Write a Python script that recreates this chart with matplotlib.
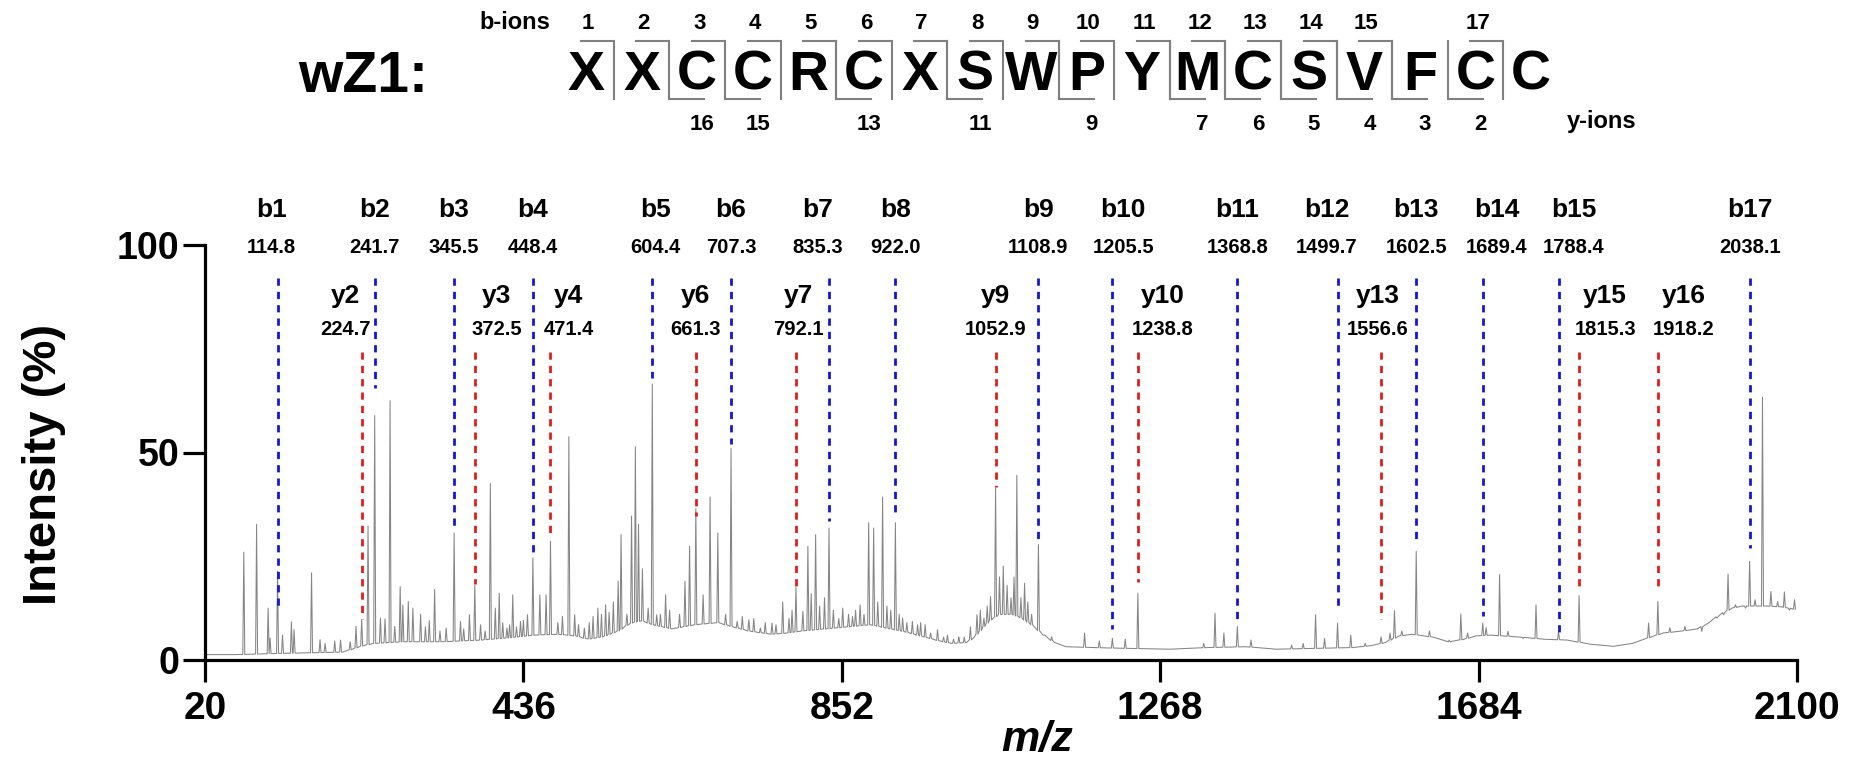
import numpy as np
import matplotlib
matplotlib.use("Agg")
import matplotlib.pyplot as plt
from matplotlib import font_manager

# ---------------------------------------------------------------- data
# MS/MS spectrum of peptide wZ1: peak apexes (m/z, relative intensity %)
peak_mz = [
    70.7, 87.4, 102.5, 105.0, 114.8, 121.3, 132.9, 136.4, 159.2, 170.3, 176.9,
    189.5, 197.1, 209.7, 217.3, 224.7, 233.0, 241.7, 249.2, 255.2, 261.8, 267.9,
    275.0, 278.5, 285.6, 291.6, 301.7, 308.0, 313.0, 320.0, 327.0, 335.1, 345.5,
    353.8, 358.0, 365.5, 372.5, 380.0, 386.0,
    392.8, 399.3, 404.4, 409.0, 414.5, 418.0, 422.1, 427.0, 432.2, 436.0, 441.3,
    448.4, 457.5, 465.6, 471.4, 481.0, 487.0,
    495.4, 503.0, 508.0, 515.6, 522.0, 527.0, 533.3, 538.0, 543.4, 548.0, 553.5,
    559.8, 563.6, 571.2, 577.3, 582.3,
    586.4, 591.5, 599.0, 604.4, 610.2, 615.0, 621.8, 627.0, 634.4, 640.0, 647.1,
    653.1, 661.3, 670.8, 679.9, 690.0, 700.2, 707.3, 715.3, 722.0, 730.5, 737.0,
    745.6, 752.0, 760.8, 766.0,
    774.8, 783.0, 787.0, 792.1, 801.1, 807.7, 812.0, 817.8, 823.0, 829.4, 835.3,
    841.0, 848.0, 853.2, 860.8, 866.0, 870.0, 875.9, 881.0, 887.1, 893.6, 899.0,
    905.3, 911.0, 916.0, 922.0, 927.0, 931.5, 937.0, 944.2, 951.0, 955.0, 960.9,
    968.0, 977.1, 985.0, 990.0, 998.0, 1004.9, 1012.0, 1020.0, 1028.6, 1033.0,
    1037.7, 1042.0, 1046.3, 1052.9, 1058.0, 1063.0, 1068.0, 1073.1, 1077.0,
    1080.7, 1086.0, 1090.8, 1095.0, 1100.0, 1108.9, 1116.0, 1126.2, 1169.2,
    1188.4, 1205.5, 1222.3, 1238.8, 1324.9, 1339.6, 1351.2, 1368.8, 1386.6,
    1439.7, 1454.8, 1471.0, 1482.7, 1499.7, 1517.0, 1535.8,
    1556.6, 1568.3, 1574.1, 1583.7, 1602.5, 1619.8, 1645.4, 1660.8, 1669.6,
    1689.4, 1693.8, 1711.4, 1722.4, 1742.3, 1759.0, 1788.4, 1815.3, 1906.1,
    1918.2, 1933.8, 1953.6, 1975.6, 1995.4, 2004.2, 2009.9, 2019.6, 2032.8,
    2038.1, 2045.2, 2054.9, 2065.9, 2074.7, 2083.5, 2090.1, 2096.7,
]
peak_int = [
    26.0, 32.7, 12.5, 5.3, 21.4, 6.0, 9.2, 7.3, 21.0, 4.9, 4.0,
    4.6, 4.8, 4.4, 8.1, 9.7, 32.3, 58.9, 10.1, 9.9, 62.5, 8.1,
    17.7, 13.3, 14.1, 12.5, 11.0, 8.0, 9.5, 17.0, 7.0, 7.7, 30.6,
    9.3, 7.5, 10.9, 18.0, 8.5, 7.0,
    42.5, 12.5, 16.1, 9.0, 7.7, 8.5, 15.7, 8.0, 9.3, 9.5, 10.9,
    24.6, 15.7, 15.7, 28.6, 9.0, 10.5,
    53.8, 10.9, 8.5, 7.7, 9.0, 10.5, 12.5, 11.0, 13.3, 11.5, 14.0,
    19.0, 30.2, 11.0, 34.7, 51.4,
    32.7, 22.0, 12.5, 66.5, 10.9, 11.0, 15.7, 12.0, 7.7, 11.0, 19.0,
    27.4, 36.5, 15.7, 39.3, 30.6, 11.0, 51.0, 9.3, 10.5, 9.7, 10.0,
    7.7, 9.0, 8.9, 8.5,
    14.0, 10.0, 12.0, 17.5, 11.7, 27.4, 16.0, 30.2, 13.0, 15.0, 31.8,
    12.0, 10.0, 12.5, 11.0, 10.5, 12.0, 13.3, 11.0, 33.1, 31.8, 14.0,
    39.3, 13.0, 12.0, 33.1, 11.0, 10.1, 9.0, 9.3, 8.5, 9.0, 8.5,
    6.5, 7.3, 5.5, 6.0, 5.0, 5.6, 5.5, 8.0, 10.9, 12.0,
    10.1, 13.0, 15.3, 41.5, 20.0, 22.6, 18.0, 15.0, 20.0,
    44.5, 15.0, 18.5, 14.0, 11.0, 27.8, 6.0, 5.6, 6.5,
    4.6, 5.2, 5.0, 16.1, 4.0, 11.3, 6.5, 8.1, 4.8,
    3.6, 4.0, 10.9, 5.2, 8.9, 6.0, 4.0,
    5.6, 6.5, 11.9, 7.0, 26.2, 7.0, 4.8, 11.1, 6.5,
    8.9, 7.8, 20.6, 6.9, 5.2, 13.3, 6.9, 15.5, 8.9,
    14.1, 7.8, 8.1, 6.9, 10.1, 10.9, 20.7, 13.3, 12.5,
    23.8, 14.5, 63.3, 16.5, 14.1, 16.4, 12.0, 14.5,
]

# chemical-noise floor under the peaks (m/z, %)
base_mz = [
    20, 60, 120, 200, 212, 225, 240, 280, 330, 380, 420, 450, 480, 505, 520,
    540, 560, 575, 590, 605, 630, 660, 690, 710, 730, 760,
    780, 800, 830, 860, 890, 915, 935, 955, 975, 995, 1015, 1025, 1035, 1045,
    1058, 1075, 1088, 1100, 1116, 1130, 1145, 1200, 1280, 1330, 1380, 1420,
    1470, 1520, 1545, 1562, 1580, 1597, 1625, 1645, 1665, 1680, 1700, 1740,
    1770, 1800, 1830, 1860, 1885, 1903, 1925, 1950, 1970, 1985, 2000, 2015,
    2028, 2050, 2062, 2080, 2098,
]
base_int = [
    1.3, 1.3, 1.6, 1.9, 2.6, 3.4, 4.0, 4.4, 4.4, 4.8, 5.4, 6.0, 6.2, 5.8, 5.0,
    5.6, 7.0, 8.8, 9.5, 8.5, 7.5, 8.5, 9.0, 8.0, 7.0, 6.2,
    6.5, 7.0, 7.5, 8.0, 8.5, 7.5, 6.8, 5.8, 4.8, 4.0, 4.2, 5.5, 7.5, 9.5,
    11.0, 11.0, 10.0, 8.5, 6.0, 4.2, 3.2, 2.9, 2.6, 3.0, 3.2, 2.6,
    2.8, 3.0, 3.5, 4.2, 5.8, 6.2, 5.5, 4.4, 5.0, 5.8, 6.0, 5.5,
    5.0, 4.8, 3.8, 3.3, 4.0, 5.2, 6.5, 7.0, 7.5, 9.0, 11.0, 12.5,
    13.0, 13.0, 13.0, 12.8, 12.2,
]

# assigned fragment ions
b_names = ["b1", "b2", "b3", "b4", "b5", "b6", "b7", "b8", "b9", "b10",
           "b11", "b12", "b13", "b14", "b15", "b17"]
b_mz = [114.8, 241.7, 345.5, 448.4, 604.4, 707.3, 835.3, 922.0, 1108.9,
        1205.5, 1368.8, 1499.7, 1602.5, 1689.4, 1788.4, 2038.1]
b_end = [13.1, 65.6, 32.3, 25.4, 68.0, 52.0, 33.5, 34.7, 29.0, 7.5, 9.9,
         11.7, 29.0, 10.5, 6.0, 27.0]

y_names = ["y2", "y3", "y4", "y6", "y7", "y9", "y10", "y13", "y15", "y16"]
y_mz = [224.7, 372.5, 471.4, 661.3, 792.1, 1052.9, 1238.8, 1556.6, 1815.3,
        1918.2]
y_end = [9.9, 18.4, 29.7, 34.8, 17.6, 41.7, 18.8, 9.9, 16.5, 16.7]

# peptide sequence with observed cleavages
peptide_name = "wZ1:"
sequence = ["X", "X", "C", "C", "R", "C", "X", "S", "W", "P", "Y", "M",
            "C", "S", "V", "F", "C", "C"]
seq_b_ions = [1, 2, 3, 4, 5, 6, 7, 8, 9, 10, 11, 12, 13, 14, 15, 17]
seq_y_ions = [16, 15, 13, 11, 9, 7, 6, 5, 4, 3, 2]

x_ticks = [20, 436, 852, 1268, 1684, 2100]
y_ticks = [0, 50, 100]

# ---------------------------------------------------------------- style
W, H, DPI = 1854, 763, 100
names = {f.name for f in font_manager.fontManager.ttflist}
main_font = "Liberation Sans" if "Liberation Sans" in names else "DejaVu Sans"
seq_font = "Liberation Sans Narrow" if "Liberation Sans Narrow" in names else main_font

plt.rcParams["font.family"] = [main_font, "DejaVu Sans"]
plt.rcParams["font.weight"] = "bold"
plt.rcParams["axes.labelweight"] = "bold"

BLUE = "#1414e6"
RED = "#e51c1c"
GREY = "#808080"

fig = plt.figure(figsize=(W / DPI, H / DPI), dpi=DPI)

# main spectrum axes (pixel box: x 205..1797, y 245..660)
ax = fig.add_axes([205 / W, (H - 660) / H, (1797 - 205) / W, (660 - 245) / H])
ax.set_xlim(20, 2100)
ax.set_ylim(0, 100)

# profile trace: each peak is a narrow spike standing on the noise floor
pk_mz = np.asarray(peak_mz)
pk_int = np.asarray(peak_int)
bs_mz = np.asarray(base_mz, dtype=float)
bs_int = np.asarray(base_int, dtype=float)
half = 1.3
keep = np.array([np.min(np.abs(pk_mz - m)) > 2 * half for m in bs_mz])
floor = np.interp(pk_mz, bs_mz, bs_int)
xs = np.concatenate([bs_mz[keep], pk_mz - half, pk_mz, pk_mz + half])
ys = np.concatenate([bs_int[keep], floor, pk_int, floor])
order = np.argsort(xs, kind="stable")
ax.plot(xs[order], ys[order], color="#858585", lw=0.75, zorder=2)

# fragment markers
dash = dict(lw=2.0, dashes=(2.6, 2.2), zorder=3, clip_on=False)
B_TOP, Y_TOP = 92.0, 74.3
for m, e in zip(b_mz, b_end):
    ax.plot([m, m], [B_TOP, e], color=BLUE, **dash)
for m, e in zip(y_mz, y_end):
    ax.plot([m, m], [Y_TOP, e], color=RED, **dash)

# label offsets (pixels) to keep neighbouring labels apart
b_dx = [-6, 0, 0, 0, 3, 0, -11, 0, 0, 11, 0, -11, 0, 14, 15, 0]
y_dx = [-16, 22, 18, 0, 2, 0, 25, -3, 26, 26]
px2pt = 72 / DPI
for name, m, dx in zip(b_names, b_mz, b_dx):
    ax.annotate(name, (m, 106.7), xytext=(dx * px2pt, 0),
                textcoords="offset points", ha="center", va="baseline",
                fontsize=19, annotation_clip=False)
    ax.annotate(f"{m:.1f}", (m, 98.15), xytext=(dx * px2pt, 0),
                textcoords="offset points", ha="center", va="baseline",
                fontsize=14.5, annotation_clip=False)
for name, m, dx in zip(y_names, y_mz, y_dx):
    ax.annotate(name, (m, 86.0), xytext=(dx * px2pt, 0),
                textcoords="offset points", ha="center", va="baseline",
                fontsize=19, annotation_clip=False)
    ax.annotate(f"{m:.1f}", (m, 78.3), xytext=(dx * px2pt, 0),
                textcoords="offset points", ha="center", va="baseline",
                fontsize=14.5, annotation_clip=False)

# axes cosmetics
for side in ("top", "right"):
    ax.spines[side].set_visible(False)
for side in ("left", "bottom"):
    ax.spines[side].set_linewidth(2.3)
ax.set_xticks(x_ticks)
ax.set_yticks(y_ticks)
ax.tick_params(axis="both", direction="out", length=16, width=2.3)
ax.tick_params(axis="x", labelsize=28, pad=6)
ax.tick_params(axis="y", labelsize=27, pad=2.5)
ax.set_ylabel("Intensity (%)", fontsize=34, va="center")
ax.yaxis.set_label_coords((44 - 205) / (1797 - 205), (660 - 464) / (660 - 245))
ax.set_xlabel("m/z", fontsize=31, style="italic", va="baseline")
ax.xaxis.set_label_coords((1037 - 205) / (1797 - 205), (660 - 751) / (660 - 245))

# ---------------------------------------------------------------- sequence header
hdr = fig.add_axes([0, 0, 1, 1], zorder=5)
hdr.set_xlim(0, W)
hdr.set_ylim(H, 0)
hdr.axis("off")

x0, step = 586.0, 55.6
top_y, bot_y = 40.7, 99.3
res_x = [x0 + step * i for i in range(len(sequence))]


def cut_x(k):
    # cleavage position after residue k (1-based)
    return res_x[k - 1] + step / 2


hdr.text(298, 92, peptide_name, fontsize=41, ha="left", va="baseline")
for x, aa in zip(res_x, sequence):
    hdr.text(x, 90, aa, fontsize=40, ha="center", va="baseline",
             family=[seq_font, main_font])

hdr.text(550, 29.3, "b-ions", fontsize=17, ha="right", va="baseline")
for n in seq_b_ions:
    hdr.text(res_x[n - 1] + 2, 29.3, str(n), fontsize=16, ha="center",
             va="baseline")
    c = cut_x(n)
    hdr.plot([c - 33, c, c], [top_y, top_y, bot_y], color=GREY, lw=1.5,
             solid_joinstyle="miter")

hdr.text(1567, 128, "y-ions", fontsize=17, ha="left", va="baseline")
for n in seq_y_ions:
    k = len(sequence) - n
    hdr.text(res_x[k] + 5, 130, str(n), fontsize=16, ha="center",
             va="baseline")
    c = cut_x(k)
    hdr.plot([c, c, c + 35], [top_y, bot_y, bot_y], color=GREY, lw=1.5,
             solid_joinstyle="miter")

fig.savefig("out.png", dpi=DPI)
